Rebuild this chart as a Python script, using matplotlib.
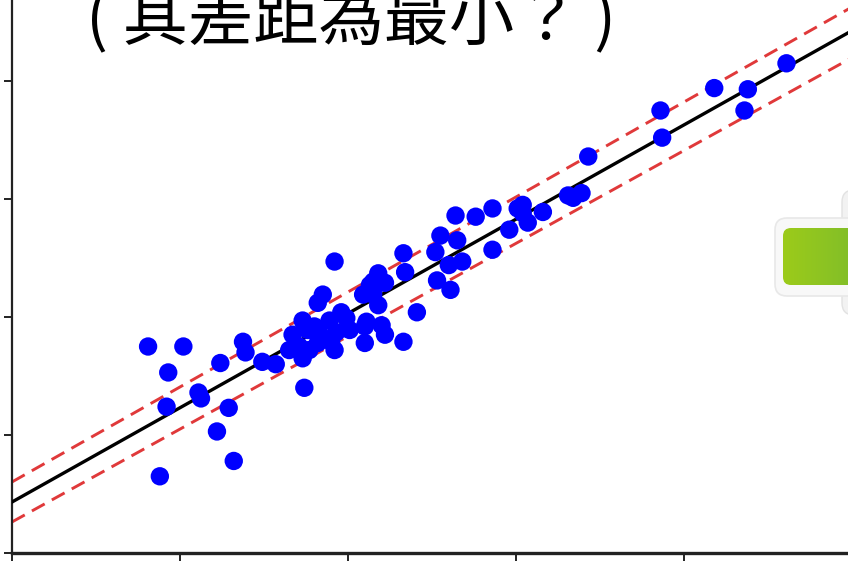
import numpy as np
import matplotlib
matplotlib.use("Agg")
import matplotlib.pyplot as plt
from matplotlib.patches import FancyBboxPatch
from matplotlib.colors import LinearSegmentedColormap

# ---- data ----
x_vals = [0.81, 1.02, 0.93, 0.92, 0.88, 1.11, 1.125, 1.24, 1.22, 1.29, 1.32, 1.375, 1.39, 1.49, 1.57,
          1.67, 1.65, 1.71, 1.73, 1.74, 1.73, 1.76, 1.77, 1.80, 1.82, 1.82, 1.85, 1.83, 1.89, 1.90,
          1.92, 1.93, 1.96, 1.99, 2.01, 1.92, 2.09, 2.10, 2.10, 2.11, 2.13, 2.15, 2.15, 2.18, 2.18,
          2.19, 2.20, 2.22, 2.22, 2.33, 2.33, 2.34, 2.41,
          2.52, 2.53, 2.55, 2.60, 2.61, 2.64, 2.65, 2.68, 2.76, 2.86, 2.86, 2.96, 3.01, 3.04, 3.04,
          3.07, 3.16, 3.31, 3.34, 3.39, 3.43, 3.86, 3.87, 4.18, 4.36, 4.38, 4.61]
y_vals = [1.75, 1.75, 1.53, 1.24, 0.65, 1.36, 1.31, 1.61, 1.03, 1.23, 0.78, 1.79, 1.70, 1.62, 1.60,
          1.85, 1.72, 1.75, 1.65, 1.40, 1.97, 1.89, 1.72, 1.92, 1.78, 2.12, 2.19, 1.86, 1.97, 1.79,
          1.72, 1.87, 2.04, 1.99, 1.89, 2.47, 2.19, 1.92, 1.78, 1.96, 2.27, 2.30, 2.19, 2.37, 2.10,
          2.29, 1.93, 2.29, 1.85, 2.54, 1.79, 2.38, 2.04,
          2.55, 2.31, 2.69, 2.44, 2.23, 2.86, 2.65, 2.47, 2.85, 2.92, 2.57, 2.74, 2.92, 2.95, 2.88,
          2.80, 2.89, 3.03, 3.01, 3.05, 3.36, 3.75, 3.52, 3.94, 3.75, 3.93, 4.15]

# fitted line and band (intercept, slope)
fit_line = (0.432, 0.799)
upper_band = (0.602, 0.805)
lower_band = (0.263, 0.787)

x_ticks = [0, 1, 2, 3, 4]
y_ticks = [0, 1, 2, 3, 4]
title_text = "( 其差距為最小？ )"

# ---- figure ----
W, H = 848, 563
fig = plt.figure(figsize=(W / 100, H / 100), dpi=100)
fig.patch.set_facecolor("white")

xmax, ymax = 5.2, 4.8
px_x, px_y = 168.0, 118.0
ax = fig.add_axes([12 / W, 10 / H, xmax * px_x / W, ymax * px_y / H])
ax.set_xlim(0, xmax)
ax.set_ylim(0, ymax)

xs = np.array([0, xmax])
for (b, m) in [upper_band, lower_band]:
    ax.plot(xs, b + m * xs, color="#e0393a", lw=2.1, dashes=(5, 2.8), zorder=2)
ax.plot(xs, fit_line[0] + fit_line[1] * xs, color="black", lw=2.4, zorder=3)

ax.scatter(x_vals, y_vals, s=175, color="#0000ff", edgecolors="none", zorder=4)

for s in ["top", "right"]:
    ax.spines[s].set_visible(False)
ax.spines["left"].set_linewidth(1.6)
ax.spines["bottom"].set_linewidth(2.4)
ax.spines["left"].set_color("#222222")
ax.spines["bottom"].set_color("#222222")
ax.set_xticks(x_ticks)
ax.set_yticks(y_ticks)
ax.set_xticklabels([])
ax.set_yticklabels([])
ax.tick_params(axis="both", direction="out", length=6, width=1.4, color="#222222")

# title text (cut off at top, as in the reference)
fig.text(86 / W, (H - 40) / H, title_text, fontsize=47, fontweight="light",
         family=["Noto Sans CJK TC", "DejaVu Sans"], color="black",
         ha="left", va="baseline")

# green button on the right
bax = fig.add_axes([0, 0, 1, 1], facecolor="none")
bax.set_xlim(0, W)
bax.set_ylim(H, 0)
bax.axis("off")
outer = FancyBboxPatch((775, 218), 100, 78, boxstyle="round,pad=0,rounding_size=12",
                       facecolor="#f8f8f8", edgecolor="#e8e8e8", lw=1.2, zorder=5)
bax.add_patch(outer)
side = FancyBboxPatch((842, 190), 40, 125, boxstyle="round,pad=0,rounding_size=12",
                      facecolor="#f2f2f2", edgecolor="#e2e2e2", lw=1.0, zorder=4)
bax.add_patch(side)
grad = np.linspace(0, 1, 100)[None, :]
cmap = LinearSegmentedColormap.from_list("g", ["#9ccb1a", "#7fbd2a"])
im = bax.imshow(grad, extent=(783, 860, 285, 228), cmap=cmap, aspect="auto", zorder=6)
clip = FancyBboxPatch((783, 228), 80, 57, boxstyle="round,pad=0,rounding_size=8",
                      facecolor="none", edgecolor="none", transform=bax.transData)
bax.add_patch(clip)
im.set_clip_path(clip)
bax.set_xlim(0, W)
bax.set_ylim(H, 0)

fig.savefig("out.png", dpi=100, facecolor="white")
